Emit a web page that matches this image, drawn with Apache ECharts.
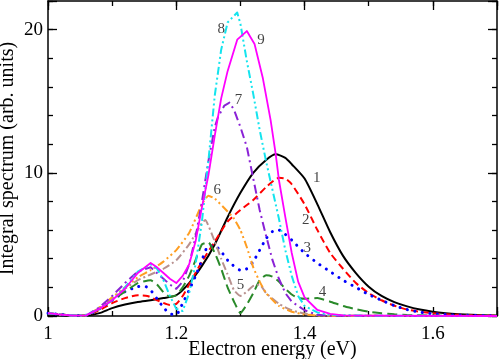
<!DOCTYPE html>
<html><head><meta charset="utf-8">
<script src="https://cdn.jsdelivr.net/npm/echarts/dist/echarts.min.js"></script>
<style>html,body{margin:0;padding:0;background:#fff}#c{width:500px;height:359px}</style>
</head><body><div id="c"></div>
<script>
// ---- data (electron energy in eV, integral spectrum in arb. units) ----
const curve1 = [[1.00,0.1],[1.04,0.01],[1.06,0.03],[1.08,0.2],[1.10,0.55],[1.12,0.8],[1.14,0.98],[1.16,1.1],[1.18,1.25],[1.20,1.45],[1.22,2.3],[1.24,3.5],[1.26,5.0],[1.28,6.9],[1.30,8.6],[1.32,10.0],[1.34,10.9],[1.355,11.3],[1.37,11.05],[1.38,10.6],[1.40,9.6],[1.42,7.8],[1.44,5.85],[1.46,4.2],[1.48,3.0],[1.50,2.05],[1.52,1.4],[1.54,0.97],[1.56,0.67],[1.58,0.45],[1.60,0.3],[1.62,0.2],[1.64,0.13],[1.66,0.08],[1.68,0.05],[1.70,0.03]];
const curve2 = [[1.00,0.2],[1.02,0.1],[1.04,0.03],[1.06,0.05],[1.08,0.4],[1.10,0.9],[1.12,1.25],[1.14,1.45],[1.155,1.4],[1.17,1.1],[1.19,0.77],[1.20,0.85],[1.21,1.4],[1.22,2.2],[1.24,3.8],[1.26,5.2],[1.28,6.6],[1.30,7.4],[1.32,8.1],[1.34,9.0],[1.36,9.65],[1.37,9.6],[1.38,9.2],[1.40,7.8],[1.42,6.0],[1.44,4.4],[1.46,3.3],[1.48,2.3],[1.50,1.6],[1.52,1.1],[1.54,0.72],[1.56,0.45],[1.58,0.3],[1.60,0.19],[1.62,0.12],[1.64,0.08],[1.66,0.05],[1.70,0.02]];
const curve3 = [[1.00,0.2],[1.02,0.1],[1.04,0.03],[1.06,0.05],[1.08,0.5],[1.10,1.1],[1.12,1.7],[1.14,2.05],[1.15,2.1],[1.16,1.8],[1.17,1.2],[1.18,0.6],[1.19,0.15],[1.20,0.1],[1.21,0.9],[1.22,1.8],[1.23,2.8],[1.24,3.9],[1.25,4.9],[1.26,4.9],[1.27,4.5],[1.28,3.9],[1.30,3.2],[1.31,3.3],[1.32,3.8],[1.33,4.6],[1.34,5.4],[1.35,5.9],[1.36,6.0],[1.37,5.7],[1.38,5.3],[1.40,4.4],[1.42,3.7],[1.44,3.1],[1.46,2.5],[1.48,2.0],[1.50,1.5],[1.52,1.1],[1.54,0.72],[1.56,0.45],[1.58,0.27],[1.60,0.16],[1.62,0.1],[1.64,0.06],[1.68,0.03],[1.70,0.02]];
const curve4 = [[1.00,0.2],[1.02,0.1],[1.04,0.03],[1.06,0.05],[1.08,0.5],[1.10,1.1],[1.12,1.7],[1.14,2.3],[1.16,2.5],[1.17,2.2],[1.18,1.65],[1.19,1.35],[1.20,1.45],[1.21,2.0],[1.22,2.8],[1.23,3.9],[1.24,5.0],[1.25,5.15],[1.26,4.4],[1.27,3.3],[1.28,2.0],[1.29,1.0],[1.30,0.2],[1.31,0.8],[1.32,1.6],[1.33,2.5],[1.34,2.85],[1.35,2.75],[1.36,2.4],[1.37,1.9],[1.38,1.5],[1.39,1.25],[1.40,1.2],[1.42,1.25],[1.44,1.0],[1.46,0.7],[1.48,0.48],[1.50,0.3],[1.52,0.2],[1.54,0.12],[1.56,0.07],[1.60,0.03],[1.70,0.01]];
const curve5 = [[1.00,0.2],[1.02,0.1],[1.04,0.03],[1.06,0.05],[1.08,0.55],[1.10,1.2],[1.12,1.9],[1.14,2.5],[1.16,2.9],[1.18,3.3],[1.20,3.9],[1.22,5.0],[1.24,6.5],[1.245,6.7],[1.26,5.2],[1.27,4.0],[1.28,2.9],[1.29,1.8],[1.30,1.4],[1.31,1.7],[1.32,2.1],[1.33,2.2],[1.34,1.6],[1.36,0.85],[1.38,0.4],[1.40,0.18],[1.42,0.06],[1.44,0.02],[1.50,0.01],[1.70,0]];
const curve6 = [[1.00,0.2],[1.02,0.1],[1.04,0.03],[1.06,0.05],[1.08,0.6],[1.10,1.3],[1.12,2.0],[1.14,2.7],[1.16,3.2],[1.18,3.8],[1.20,4.6],[1.22,5.8],[1.24,7.8],[1.25,8.4],[1.26,8.2],[1.28,7.3],[1.29,6.8],[1.30,6.0],[1.31,4.8],[1.32,3.4],[1.33,2.4],[1.34,1.6],[1.36,0.7],[1.38,0.3],[1.40,0.1],[1.42,0.03],[1.50,0.01],[1.70,0]];
const curve7 = [[1.00,0.2],[1.02,0.1],[1.04,0.03],[1.06,0.05],[1.08,0.6],[1.10,1.4],[1.12,2.3],[1.14,3.1],[1.16,3.4],[1.18,2.6],[1.19,2.2],[1.20,1.9],[1.21,2.4],[1.22,3.6],[1.23,5.5],[1.24,8.0],[1.25,10.8],[1.26,13.2],[1.265,13.9],[1.275,14.7],[1.283,14.9],[1.29,14.4],[1.30,13.2],[1.31,11.8],[1.32,9.6],[1.33,7.4],[1.34,5.6],[1.35,3.9],[1.36,2.6],[1.37,1.6],[1.38,1.0],[1.40,0.4],[1.42,0.08],[1.44,0.02],[1.50,0.01],[1.70,0]];
const curve8 = [[1.00,0.2],[1.02,0.1],[1.04,0.03],[1.06,0.05],[1.08,0.5],[1.10,1.1],[1.12,2.0],[1.14,3.1],[1.16,3.6],[1.17,3.3],[1.18,2.5],[1.19,1.4],[1.20,0.5],[1.21,0.35],[1.22,1.6],[1.23,3.6],[1.24,6.6],[1.25,10.8],[1.26,15.4],[1.27,18.6],[1.28,20.5],[1.295,21.2],[1.30,20.4],[1.31,17.8],[1.32,15.5],[1.33,13.0],[1.34,10.8],[1.35,8.8],[1.36,6.8],[1.37,4.6],[1.38,2.8],[1.39,1.4],[1.40,0.7],[1.42,0.25],[1.44,0.08],[1.50,0.02],[1.70,0]];
const curve9 = [[1.00,0.2],[1.02,0.1],[1.04,0.03],[1.06,0.05],[1.08,0.5],[1.10,1.1],[1.12,1.9],[1.14,3.0],[1.16,3.7],[1.17,3.4],[1.18,3.0],[1.19,2.6],[1.20,2.3],[1.21,2.8],[1.22,3.6],[1.23,5.2],[1.24,7.6],[1.25,9.8],[1.26,12.6],[1.27,15.2],[1.28,17.1],[1.295,19.3],[1.31,19.9],[1.322,19.0],[1.335,16.6],[1.347,13.7],[1.355,11.3],[1.36,9.5],[1.37,6.9],[1.38,4.4],[1.39,2.4],[1.40,1.3],[1.42,0.42],[1.44,0.15],[1.46,0.05],[1.50,0.02],[1.70,0]];
const curveNames = ['1','2','3','4','5','6','7','8','9'];
const curveLabels = [[1.419,9.6,'1'],[1.402,6.7,'2'],[1.404,4.75,'3'],[1.428,1.7,'4'],[1.30,2.15,'5'],[1.264,8.8,'6'],[1.297,15.1,'7'],[1.270,20.05,'8'],[1.332,19.3,'9']];
const xMajorTicks = [1, 1.2, 1.4, 1.6];
const yMajorTicks = [0, 10, 20];

// ---- styles ----
const FONT = '"Liberation Serif", "DejaVu Serif", serif';
const styles = [
  {color:'#000000', width:2,   type:'solid', smooth:0.2},
  {color:'#ff0000', width:2,   type:[7,4], smooth:0.2},
  {color:'#0000ff', width:3,   type:[0.1,7.5], cap:'round', smooth:0.2},
  {color:'#2a8a2a', width:2,   type:[10,5], smooth:0.15},
  {color:'#b8918f', width:2,   type:[8,3,2,3], smooth:0.15},
  {color:'#ff9e22', width:2,   type:[8,3,2,3,2,3], smooth:0.15},
  {color:'#8a22d6', width:2,   type:[9,4,2,4], smooth:0},
  {color:'#14e4ee', width:2,   type:[8,3,2,3,2,3], smooth:0},
  {color:'#ff00ff', width:1.8, type:'solid', smooth:0}
];
const curves = [curve1,curve2,curve3,curve4,curve5,curve6,curve7,curve8,curve9];

const axisCol = '#000';
function xAx(pos, interval, len, labels, line){
  return {
    type:'value', position:pos, min:1, max:1.7, interval:interval,
    axisLine:{show:line, onZero:false, lineStyle:{color:axisCol, width:1.5}},
    axisTick:{show:true, inside:true, length:len, lineStyle:{color:axisCol, width:1.3}},
    axisLabel:{show:labels, fontFamily:FONT, fontSize:19, color:'#000', margin:9,
      formatter: v => xMajorTicks.some(t => Math.abs(t - v) < 1e-6) ? String(Math.round(v*10)/10) : ''},
    splitLine:{show:false}, minorTick:{show:false}
  };
}
function yAx(pos, interval, len, labels, line){
  return {
    type:'value', position:pos, min:0, max:22, interval:interval,
    axisLine:{show:line, onZero:false, lineStyle:{color:axisCol, width:1.5}},
    axisTick:{show:true, inside:true, length:len, lineStyle:{color:axisCol, width:1.3}},
    axisLabel:{show:labels, fontFamily:FONT, fontSize:19, color:'#000', margin:5,
      formatter: v => yMajorTicks.includes(v) ? String(v) : ''},
    splitLine:{show:false}, minorTick:{show:false}
  };
}
const xAxes = [xAx('bottom',0.2,9,true,true), xAx('bottom',0.1,5,false,false), xAx('top',0.2,9,false,true), xAx('top',0.1,5,false,false)];
Object.assign(xAxes[0], {name:'Electron energy (eV)', nameLocation:'middle', nameGap:24, nameMoveOverlap:false,
  nameTextStyle:{fontFamily:FONT, fontSize:20, color:'#000'}});
const yAxes = [yAx('left',10,9,true,true), yAx('left',2,5,false,false), yAx('right',10,9,false,true), yAx('right',2,5,false,false)];
Object.assign(yAxes[0], {name:'Integral spectrum (arb. units)', nameLocation:'middle', nameGap:30, nameMoveOverlap:false,
  nameTextStyle:{fontFamily:FONT, fontSize:20, color:'#000'}});

const series = curves.map((c, i) => ({
  type:'line', name:curveNames[i], data:c, xAxisIndex:0, yAxisIndex:0,
  symbol:'none', showSymbol:false, smooth:styles[i].smooth,
  lineStyle:{color:styles[i].color, width:styles[i].width, type:styles[i].type, cap:styles[i].cap || 'butt', join:'round'},
  z: 2 + i, silent:true
}));
series.push({
  type:'scatter', xAxisIndex:0, yAxisIndex:0, symbolSize:1,
  itemStyle:{color:'rgba(0,0,0,0)'},
  data: curveLabels.map(d => ({value:[d[0], d[1]], name:d[2]})),
  label:{show:true, position:'inside', formatter:'{b}', fontFamily:FONT, fontSize:15, color:'#111'},
  z: 20, silent:true
});

const chart = echarts.init(document.getElementById('c'), null, {renderer:'canvas'});
chart.setOption({
  animation:false,
  backgroundColor:'#ffffff',
  grid:{left:48, right:3, top:1, bottom:43, containLabel:false, outerBoundsMode:'none'},
  xAxis:xAxes, yAxis:yAxes, series:series
});
</script></body></html>
